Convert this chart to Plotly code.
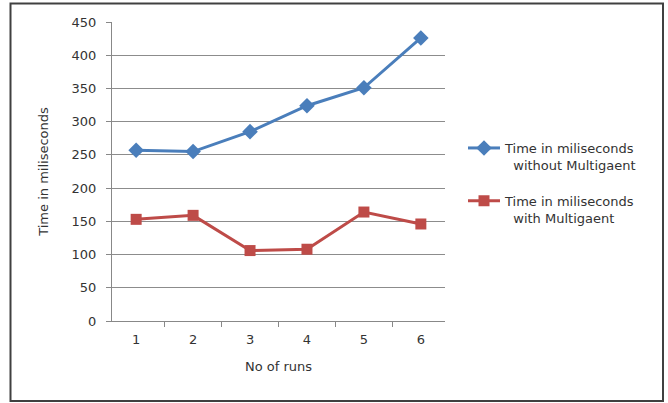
import plotly.graph_objects as go

runs = ["1", "2", "3", "4", "5", "6"]
without_multiagent = [257, 255, 285, 324, 351, 426]
with_multiagent = [153, 159, 106, 108, 164, 146]
y_ticks = [0, 50, 100, 150, 200, 250, 300, 350, 400, 450]

series_blue = "Time in miliseconds<br>&nbsp;&nbsp;without Multigaent"
series_red = "Time in miliseconds<br>&nbsp;&nbsp;with Multigaent"

fig = go.Figure()
fig.add_trace(go.Scatter(
    x=runs, y=without_multiagent, mode="lines+markers", name=series_blue,
    legendgroup="a",
    line=dict(color="#4A7EBB", width=3),
    marker=dict(symbol="diamond", size=12, color="#4A7EBB"),
))
fig.add_trace(go.Scatter(
    x=runs, y=with_multiagent, mode="lines+markers", name=series_red,
    legendgroup="b",
    line=dict(color="#BE4B48", width=3),
    marker=dict(symbol="square", size=11, color="#BE4B48"),
))

W, H = 668, 403
L, R, T, B = 112, 223, 22, 82
pw, ph = W - L - R, H - T - B

def px2x(px):
    return (px - L) / pw

def px2y(py):
    return (H - B - py) / ph

font = dict(family="DejaVu Sans", size=13, color="#333333")

fig.update_layout(
    width=W, height=H,
    margin=dict(l=L, r=R, t=T, b=B),
    paper_bgcolor="white", plot_bgcolor="white",
    font=font,
    showlegend=True,
    legend=dict(x=px2x(463), y=px2y(133), xanchor="left", yanchor="top",
                font=font,
                traceorder="grouped", tracegroupgap=16, valign="top",
                itemwidth=32, bgcolor="rgba(0,0,0,0)"),
    xaxis=dict(
        type="category", title=dict(text="No of runs", font=font, standoff=16),
        showgrid=False, showline=True, linecolor="#888888", linewidth=1,
        ticks="outside", tickson="boundaries", ticklen=5, tickcolor="#888888",
        tickfont=font, ticklabelstandoff=6,
    ),
    yaxis=dict(
        range=[0, 450], tickvals=y_ticks,
        title=dict(text="Time in miliseconds", font=font, standoff=20),
        showgrid=True, gridcolor="#8c8c8c", gridwidth=1,
        showline=True, linecolor="#888888", linewidth=1,
        ticks="outside", ticklen=5, tickcolor="#888888",
        tickfont=font, zeroline=False, ticklabelstandoff=7,
    ),
    shapes=[dict(type="rect", xref="paper", yref="paper",
                 x0=px2x(10.5), x1=px2x(663), y0=px2y(401), y1=px2y(3.5),
                 line=dict(color="#404040", width=2), layer="below")],
)

fig.write_html("out.html", config={"displayModeBar": False},
               post_script="document.body.style.margin='0';")
